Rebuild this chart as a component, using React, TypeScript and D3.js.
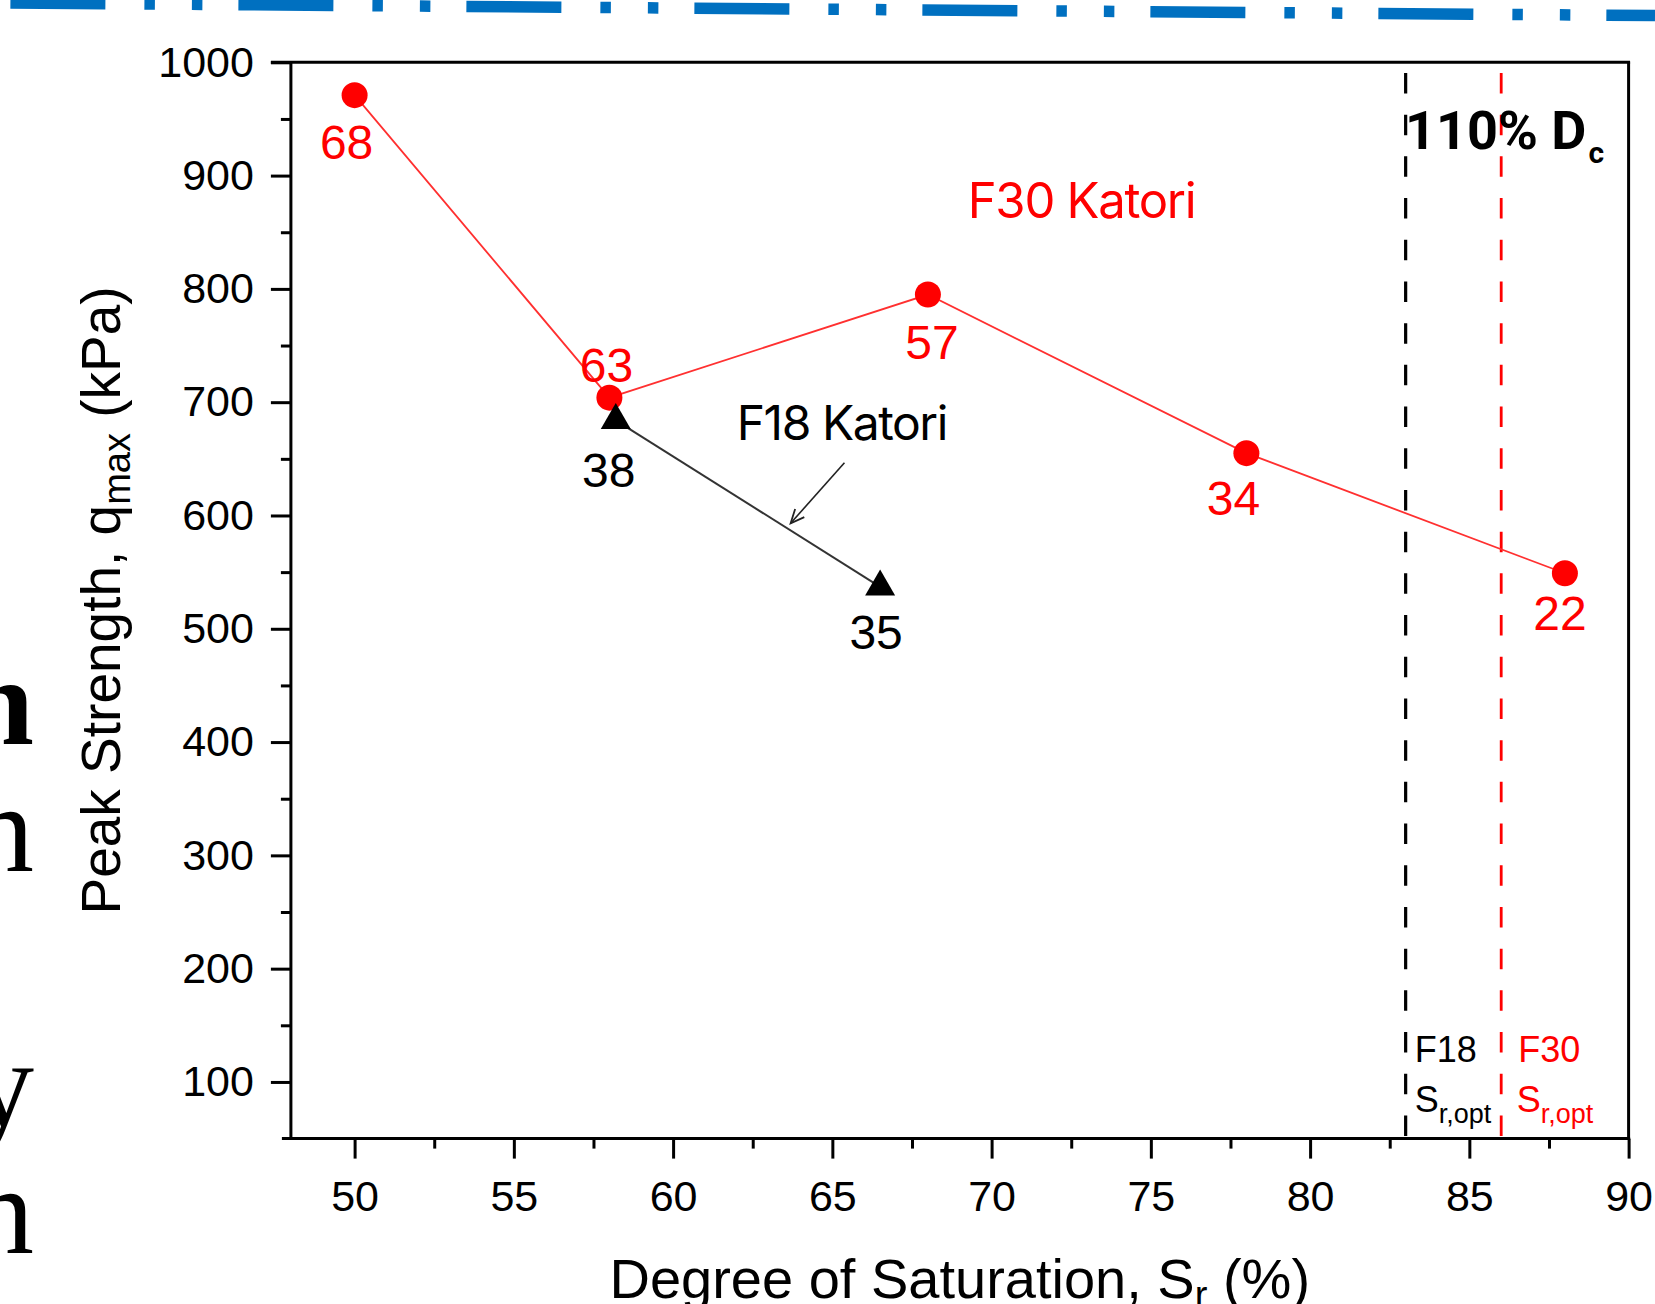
import React, { useEffect, useRef } from "react";
import * as d3 from "d3";

const W = 1655;
const H = 1304;

// F30 Katori: degree of saturation (%) vs peak strength (kPa)
const f30Sat = [50, 58, 68, 78, 88];
const f30Peak = [971, 704, 795, 655, 549];
const f30Labels = ["68", "63", "57", "34", "22"];

// F18 Katori
const f18Sat = [58.2, 66.5];
const f18Peak = [684, 537];
const f18Labels = ["38", "35"];

// optimum degree of saturation for each soil
const srOptF18 = 83;
const srOptF30 = 86;

const xDomain = [48, 90];
const yDomain = [50, 1000];
const xTicks = [50, 55, 60, 65, 70, 75, 80, 85, 90];
const xMinorTicks = [52.5, 57.5, 62.5, 67.5, 72.5, 77.5, 82.5, 87.5];
const yTicks = [100, 200, 300, 400, 500, 600, 700, 800, 900, 1000];
const yMinorTicks = [150, 250, 350, 450, 550, 650, 750, 850, 950];

// label offsets (px) relative to each marker
const f30LabelNudge = [[-8, 64], [-3, -16], [4, 64], [-13, 62], [-5, 57]];
const f18LabelNudge = [[-7, 67], [-4, 62]];

const RED = "#ff0000";
const SANS = "'Liberation Sans', Arial, sans-serif";
const GEO = "Inter, 'Open Sans', sans-serif";
const HEAD = "Roboto, Inter, sans-serif";
const SERIF = "'Liberation Serif', 'Times New Roman', serif";

const M = { left: 290.9, right: 1628.6, top: 62.3, bottom: 1138.6 };

export default function App() {
  const xAxisRef = useRef<SVGGElement>(null);
  const yAxisRef = useRef<SVGGElement>(null);

  const x = d3.scaleLinear().domain(xDomain).range([M.left, M.right]);
  const y = d3.scaleLinear().domain(yDomain).range([M.bottom, M.top]);

  useEffect(() => {
    const gx = d3.select(xAxisRef.current);
    gx.selectAll("*").remove();
    const major = gx.append("g");
    major.call(
      d3.axisBottom(x).tickValues(xTicks).tickSize(20).tickPadding(22).tickFormat(d3.format("d")) as any
    );
    const minor = gx.append("g");
    minor.call(d3.axisBottom(x).tickValues(xMinorTicks).tickSize(10).tickFormat(() => "") as any);
    gx.selectAll(".domain").remove();
    gx.selectAll("line").attr("stroke-width", 3);
    gx.selectAll("text").attr("font-size", 43).attr("font-family", SANS).attr("fill", "#000");

    const gy = d3.select(yAxisRef.current);
    gy.selectAll("*").remove();
    const ymaj = gy.append("g");
    ymaj.call(d3.axisLeft(y).tickValues(yTicks).tickSize(20).tickPadding(17).tickFormat(d3.format("d")) as any);
    const ymin = gy.append("g");
    ymin.call(d3.axisLeft(y).tickValues(yMinorTicks).tickSize(10).tickFormat(() => "") as any);
    gy.selectAll(".domain").remove();
    gy.selectAll("line").attr("stroke-width", 3);
    gy.selectAll("text").attr("font-size", 43).attr("font-family", SANS).attr("fill", "#000");
  }, []);

  const f30Pts = f30Sat.map((s, i) => [x(s), y(f30Peak[i])] as [number, number]);
  const f18Pts = f18Sat.map((s, i) => [x(s), y(f18Peak[i])] as [number, number]);
  const line = d3.line();
  const tri = d3.symbol(d3.symbolTriangle, 390)() as string;
  const dot = d3.symbol(d3.symbolCircle, Math.PI * 13 * 13)() as string;

  // annotation arrow pointing at the F18 line
  const tail: [number, number] = [x(65.38), y(646.6)];
  const tip: [number, number] = [x(63.69), y(593.1)];
  const ang = Math.atan2(tip[1] - tail[1], tip[0] - tail[0]);
  const barb = 15;
  const spread = 0.42;
  const b1 = [tip[0] - barb * Math.cos(ang - spread), tip[1] - barb * Math.sin(ang - spread)];
  const b2 = [tip[0] - barb * Math.cos(ang + spread), tip[1] - barb * Math.sin(ang + spread)];

  const dashTop = y(990.6);

  return (
    <div style={{ position: "absolute", left: 0, top: 0 }}>
      <svg width={W} height={H} viewBox={`0 0 ${W} ${H}`} style={{ display: "block", background: "#fff" }}>
        <rect x={0} y={0} width={W} height={H} fill="#fff" />

        {/* page rule above the figure */}
        <line
          x1={0}
          y1={2.9}
          x2={W}
          y2={15.6}
          stroke="#0070c0"
          strokeWidth={11.5}
          strokeDasharray="95 39 10.5 37 10.5 36"
          strokeDashoffset={217.6}
        />

        {/* surrounding body text running off the page edge */}
        <g fontFamily={SERIF} fontSize={124} fill="#000" textAnchor="end">
          <text x={34} y={744} fontWeight={700}>n</text>
          <text x={34} y={871}>n</text>
          <text x={34} y={1126}>y</text>
          <text x={34} y={1253}>n</text>
        </g>

        {/* frame */}
        <g stroke="#000" strokeWidth={3} fill="none">
          <line x1={M.left - 20} y1={M.top} x2={M.right + 1.5} y2={M.top} />
          <line x1={M.left - 9} y1={M.bottom} x2={M.right + 1.5} y2={M.bottom} />
          <line x1={M.left} y1={M.top} x2={M.left} y2={M.bottom + 1.5} />
          <line x1={M.right} y1={M.top} x2={M.right} y2={M.bottom + 1.5} />
        </g>

        <g ref={xAxisRef} transform={`translate(0,${M.bottom})`} />
        <g ref={yAxisRef} transform={`translate(${M.left},0)`} />

        {/* optimum saturation lines */}
        <line x1={x(srOptF18)} x2={x(srOptF18)} y1={dashTop} y2={M.bottom} stroke="#000" strokeWidth={3.2} strokeDasharray="20.5 21.2" />
        <line x1={x(srOptF30)} x2={x(srOptF30)} y1={dashTop} y2={M.bottom} stroke={RED} strokeWidth={2.8} strokeDasharray="20.5 21.2" />

        {/* series lines */}
        <path d={line(f30Pts) as string} fill="none" stroke="#ff3030" strokeWidth={1.8} />
        <path d={line(f18Pts) as string} fill="none" stroke="#333" strokeWidth={2} />

        {/* markers */}
        {f30Pts.map((p, i) => (
          <path key={"c" + i} d={dot} transform={`translate(${p[0]},${p[1]})`} fill={RED} />
        ))}
        {f18Pts.map((p, i) => (
          <path key={"t" + i} d={tri} transform={`translate(${p[0]},${p[1]})`} fill="#000" />
        ))}

        {/* point labels */}
        <g fontFamily={SANS} fontSize={48} textAnchor="middle">
          {f30Pts.map((p, i) => (
            <text key={"l" + i} x={p[0] + f30LabelNudge[i][0]} y={p[1] + f30LabelNudge[i][1]} fill={RED}>
              {f30Labels[i]}
            </text>
          ))}
          {f18Pts.map((p, i) => (
            <text key={"k" + i} x={p[0] + f18LabelNudge[i][0]} y={p[1] + f18LabelNudge[i][1]} fill="#000">
              {f18Labels[i]}
            </text>
          ))}
        </g>

        {/* series annotations */}
        <text x={967.7} y={218.3} fontFamily={GEO} fontSize={49} fill={RED} textLength={229}>
          F30 Katori
        </text>
        <text x={736.7} y={440} fontFamily={GEO} fontSize={48} fill="#000" textLength={211.6}>
          F18 Katori
        </text>
        <line x1={tail[0]} y1={tail[1]} x2={tip[0]} y2={tip[1]} stroke="#222" strokeWidth={1.6} />
        <path d={`M${b1[0]},${b1[1]}L${tip[0]},${tip[1]}L${b2[0]},${b2[1]}`} fill="none" stroke="#222" strokeWidth={1.8} />

        {/* compaction level */}
        <text x={1405} y={149.3} fontFamily={HEAD} fontSize={54} fontWeight={700} fill="#000">
          110% D
          <tspan fontSize={30} dy={14} dx={2}>c</tspan>
        </text>

        {/* optimum saturation labels */}
        <g fontFamily={SANS}>
          <text x={x(srOptF18) + 9} y={1061.7} fontSize={36} fill="#000">F18</text>
          <text x={x(srOptF18) + 9} y={1111.7} fontSize={36} fill="#000">
            S<tspan fontSize={27} dy={11.6}>r,opt</tspan>
          </text>
          <text x={x(srOptF30) + 17} y={1061.7} fontSize={36} fill={RED}>F30</text>
          <text x={x(srOptF30) + 15.5} y={1111.7} fontSize={36} fill={RED}>
            S<tspan fontSize={27} dy={11.6}>r,opt</tspan>
          </text>
        </g>

        {/* axis titles */}
        <text x={(M.left + M.right) / 2} y={1298} fontFamily={SANS} fontSize={56} textAnchor="middle" fill="#000">
          Degree of Saturation, S<tspan fontSize={38} dy={10}>r</tspan>
          <tspan dy={-10}> (%)</tspan>
        </text>
        <text
          transform={`translate(120,${(M.top + M.bottom) / 2}) rotate(-90)`}
          fontFamily={SANS}
          fontSize={55}
          textAnchor="middle"
          fill="#000"
        >
          Peak Strength, q<tspan fontSize={38} dy={10}>max</tspan>
          <tspan dy={-10}> (kPa)</tspan>
        </text>
      </svg>
    </div>
  );
}
